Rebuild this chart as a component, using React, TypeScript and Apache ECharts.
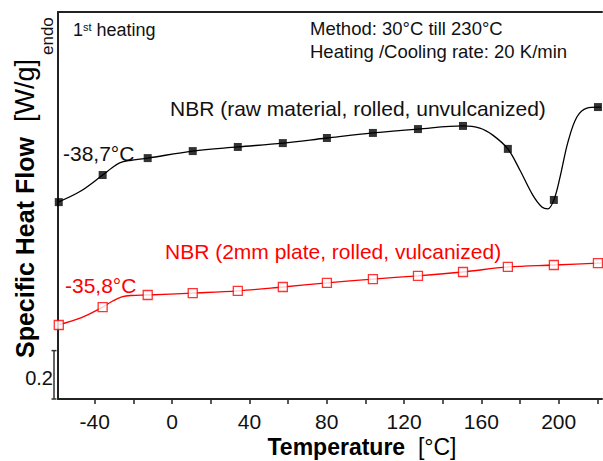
import React, { useEffect, useRef } from "react";
import * as echarts from "echarts";

// ---- data ----
// Temperature [°C] of the sampled curve points
const blackCurveT = [-59.0, -47.2, -35.9, -31.2, -27.1, -21.9, -12.6, 10.7, 34.0, 57.3, 80.1, 103.9, 127.2, 150.5, 159.2, 165.9, 173.7, 179.9, 186.6, 191.3, 194.4, 197.5, 200.6, 204.8, 209.4, 214.6, 220.3, 222.0];
// Specific heat flow [W/g] (offset, arbitrary zero)
const blackCurveV = [0.814, 0.860, 0.926, 0.955, 0.976, 0.986, 0.996, 1.025, 1.042, 1.058, 1.079, 1.100, 1.116, 1.129, 1.120, 1.091, 1.034, 0.947, 0.843, 0.794, 0.786, 0.823, 0.914, 1.063, 1.166, 1.203, 1.207, 1.207];

const redCurveT = [-59.0, -47.2, -35.9, -30.7, -26.0, -21.3, -12.6, 10.7, 34.0, 57.3, 80.1, 103.9, 127.2, 150.5, 173.7, 197.5, 220.3, 222.0];
const redCurveV = [0.306, 0.335, 0.380, 0.405, 0.422, 0.428, 0.430, 0.438, 0.447, 0.463, 0.480, 0.496, 0.509, 0.525, 0.546, 0.554, 0.562, 0.563];

// marker positions
const markerT = [-58.6, -35.9, -12.6, 10.7, 34.0, 57.3, 80.1, 103.9, 127.2, 150.5, 173.7, 197.5, 220.3];
const blackMarkerV = [0.814, 0.926, 0.996, 1.025, 1.042, 1.058, 1.079, 1.100, 1.116, 1.129, 1.034, 0.823, 1.207];
const redMarkerV = [0.306, 0.380, 0.430, 0.438, 0.447, 0.463, 0.480, 0.496, 0.509, 0.525, 0.546, 0.554, 0.562];

// axes
const xMin = -59;
const xMax = 222.4;
const yMin = 0;
const yMax = 1.6;
const xTickValues = [-40, -20, 0, 20, 40, 60, 80, 100, 120, 140, 160, 180, 200, 220];
const xLabelValues = [-40, 0, 40, 80, 120, 160, 200];
const scaleBar = [0, 0.2];
const scaleBarLabel = "0.2";

const FONT = "'Liberation Sans', Arial, Helvetica, sans-serif";
const RED = "#ff0000";
const AXIS = "#222222";

function zip(a: number[], b: number[]) {
  return a.map((v, i) => [v, b[i]]);
}

export default function App() {
  const ref = useRef<HTMLDivElement>(null);

  useEffect(() => {
    document.body.style.margin = "0";
    if (!ref.current) return;
    const chart = echarts.init(ref.current, undefined, { renderer: "svg" });

    const option: any = {
      animation: false,
      backgroundColor: "#ffffff",
      grid: { left: 58, right: 1, top: 12, bottom: 62, containLabel: false },
      xAxis: [
        {
          type: "value",
          min: xMin,
          max: xMax,
          position: "bottom",
          axisLine: { show: true, onZero: false, lineStyle: { color: AXIS, width: 2 } },
          axisTick: {
            show: true,
            inside: false,
            length: 5,
            customValues: xTickValues,
            lineStyle: { color: AXIS, width: 1.5 },
          },
          axisLabel: {
            show: true,
            customValues: xLabelValues,
            fontSize: 21,
            color: "#111",
            margin: 12,
            fontFamily: FONT,
          },
          splitLine: { show: false },
        },
        {
          type: "value",
          min: xMin,
          max: xMax,
          position: "top",
          axisLine: { show: true, onZero: false, lineStyle: { color: AXIS, width: 2 } },
          axisTick: { show: false },
          axisLabel: { show: false },
          splitLine: { show: false },
        },
      ],
      yAxis: {
        type: "value",
        min: yMin,
        max: yMax,
        axisLine: { show: true, onZero: false, lineStyle: { color: AXIS, width: 2 } },
        axisTick: { show: false },
        axisLabel: { show: false },
        splitLine: { show: false },
      },
      series: [
        {
          type: "line",
          data: zip(blackCurveT, blackCurveV),
          smooth: 0.35,
          showSymbol: false,
          lineStyle: { color: "#000", width: 1.3 },
          z: 2,
        },
        {
          type: "scatter",
          data: zip(markerT, blackMarkerV),
          symbol: "rect",
          symbolSize: 8,
          itemStyle: { color: "#000" },
          clip: false,
          z: 3,
        },
        {
          type: "line",
          data: zip(redCurveT, redCurveV),
          smooth: 0.35,
          showSymbol: false,
          lineStyle: { color: RED, width: 1.3 },
          z: 2,
        },
        {
          type: "scatter",
          data: zip(markerT, redMarkerV),
          symbol: "rect",
          symbolSize: 9,
          itemStyle: { color: "#fff", borderColor: RED, borderWidth: 1.3 },
          clip: false,
          z: 3,
        },
        {
          type: "custom",
          clip: false,
          silent: true,
          data: [scaleBar],
          renderItem: (_params: any, api: any) => {
            const p0 = api.coord([xMin, api.value(0)]);
            const p1 = api.coord([xMin, api.value(1)]);
            const x = p0[0] - 4;
            const st = { stroke: "#333", lineWidth: 1.5 };
            return {
              type: "group",
              children: [
                { type: "line", shape: { x1: x, y1: p0[1], x2: x, y2: p1[1] }, style: st },
                { type: "line", shape: { x1: x - 2.5, y1: p0[1], x2: x + 2.5, y2: p0[1] }, style: st },
                { type: "line", shape: { x1: x - 2.5, y1: p1[1], x2: x + 2.5, y2: p1[1] }, style: st },
                {
                  type: "text",
                  x: x - 1,
                  y: (p0[1] + p1[1]) / 2 + 3,
                  style: {
                    text: scaleBarLabel,
                    fill: "#111",
                    fontSize: 20,
                    fontFamily: FONT,
                    textAlign: "right",
                    textVerticalAlign: "middle",
                  },
                },
              ],
            };
          },
        },
      ],
      graphic: [
        {
          type: "text",
          x: 73,
          y: 30,
          style: {
            text: "{a|1}{s|st}{a| heating}",
            textVerticalAlign: "middle",
            rich: {
              a: { fontSize: 18, fontFamily: FONT, fill: "#111", color: "#111", verticalAlign: "bottom" },
              s: { fontSize: 11, fontFamily: FONT, fill: "#111", color: "#111", verticalAlign: "top" },
            },
          },
        },
        {
          type: "text",
          x: 310,
          y: 28,
          style: { text: "Method: 30°C till 230°C", fontSize: 18.5, fontFamily: FONT, fill: "#111", textVerticalAlign: "middle" },
        },
        {
          type: "text",
          x: 310,
          y: 51,
          style: { text: "Heating /Cooling rate: 20 K/min", fontSize: 18.5, fontFamily: FONT, fill: "#111", textVerticalAlign: "middle" },
        },
        {
          type: "text",
          x: 170,
          y: 108,
          style: { text: "NBR (raw material, rolled, unvulcanized)", fontSize: 21, fontFamily: FONT, fill: "#111", textVerticalAlign: "middle" },
        },
        {
          type: "text",
          x: 63,
          y: 153,
          style: { text: "-38,7°C", fontSize: 21, fontFamily: FONT, fill: "#111", textVerticalAlign: "middle" },
        },
        {
          type: "text",
          x: 165,
          y: 251,
          style: { text: "NBR (2mm plate, rolled, vulcanized)", fontSize: 21, fontFamily: FONT, fill: RED, textVerticalAlign: "middle" },
        },
        {
          type: "text",
          x: 65,
          y: 285,
          style: { text: "-35,8°C", fontSize: 21, fontFamily: FONT, fill: RED, textVerticalAlign: "middle" },
        },
        {
          type: "text",
          x: 362,
          y: 447,
          style: {
            text: "{b|Temperature}{n|  [°C]}",
            textAlign: "center",
            textVerticalAlign: "middle",
            rich: {
              b: { fontSize: 23, fontWeight: "bold", fontFamily: FONT, fill: "#000", color: "#000" },
              n: { fontSize: 23, fontFamily: FONT, fill: "#000", color: "#000" },
            },
          },
        },
        {
          type: "group",
          x: 0,
          y: 0,
          rotation: Math.PI / 2,
          children: [
            {
              type: "text",
              x: -358,
              y: 25,
              style: {
                text: "Specific Heat Flow",
                fontSize: 25,
                fontWeight: "bold",
                fontFamily: FONT,
                fill: "#000",
                textAlign: "left",
                textVerticalAlign: "middle",
              },
            },
            {
              type: "text",
              x: -122,
              y: 24.5,
              style: {
                text: "[W/g]",
                fontSize: 27,
                fontFamily: FONT,
                fill: "#000",
                textAlign: "left",
                textVerticalAlign: "middle",
              },
            },
            {
              type: "text",
              x: -55,
              y: 47.5,
              style: {
                text: "endo",
                fontSize: 17,
                fontFamily: FONT,
                fill: "#111",
                textAlign: "left",
                textVerticalAlign: "middle",
              },
            },
          ],
        },
      ],
    };

    chart.setOption(option);
    return () => {
      chart.dispose();
    };
  }, []);

  return <div ref={ref} style={{ width: 603, height: 461 }} />;
}
